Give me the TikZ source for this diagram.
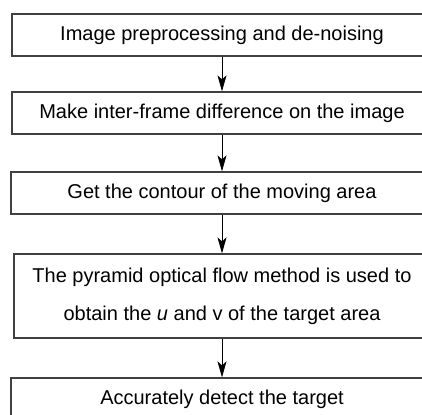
\documentclass[tikz,border=0pt]{standalone}
\usepackage{fontspec}
\setmainfont{Liberation Sans}
\usetikzlibrary{arrows.meta}
\begin{document}
\begin{tikzpicture}[x=1pt,y=-1pt,
  box/.style={draw=black!75, line width=1.2pt, rectangle, inner sep=0pt, font=\fontsize{20}{24}\selectfont, text=black},
  arr/.style={draw=black, line width=1pt, -{Stealth[length=16pt,width=9pt,inset=4pt]}}]
\useasboundingbox (0,0) rectangle (422,414);
\clip (0,0) rectangle (422,414);
\node[box, minimum width=420pt, minimum height=42pt] (b1) at (222,35) {Image preprocessing and de-noising};
\node[box, minimum width=420pt, minimum height=42pt] (b2) at (222,113) {Make inter-frame difference on the image};
\node[box, minimum width=422pt, minimum height=42pt] (b3) at (222,193) {Get the contour of the moving area};
\node[box, minimum width=416pt, minimum height=84pt, align=center, font=\fontsize{20}{38}\selectfont] (b4) at (222,296) {The pyramid optical flow method is used to\\obtain the \textit{u} and v of the target area};
\node[box, minimum width=422pt, minimum height=42pt] (b5) at (222,399) {Accurately detect the target};
\draw[arr] (b1) -- (b2);
\draw[arr] (b2) -- (b3);
\draw[arr] (b3) -- (b4);
\draw[arr] (b4) -- (b5);
\end{tikzpicture}
\end{document}
